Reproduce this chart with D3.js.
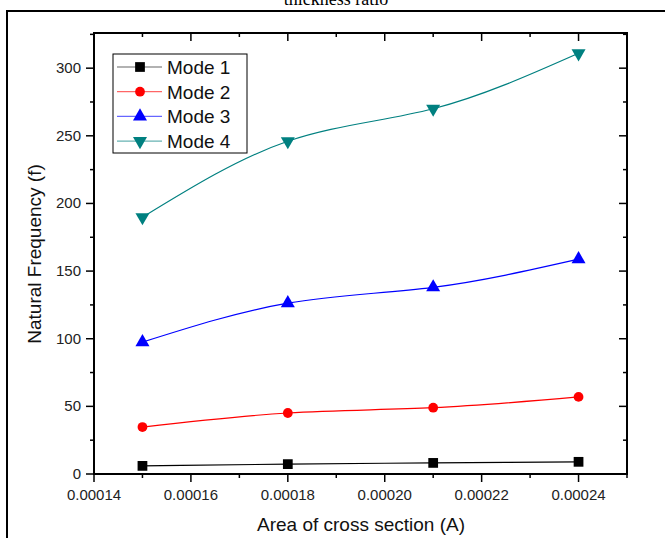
<!DOCTYPE html>
<html>
<head>
<meta charset="utf-8">
<script src="https://cdn.jsdelivr.net/npm/d3@7"></script>
<style>
  body { margin: 0; background: #fff; }
  text { font-family: "Liberation Sans", Arial, sans-serif; }
</style>
</head>
<body>
<svg id="chart" width="665" height="538"></svg>
<script>
// data
const areas = [0.00015, 0.00018, 0.00021, 0.00024];
const mode1 = [6, 7.3, 8.2, 9];
const mode2 = [34.7, 45.1, 49, 57];
const mode3 = [97.5, 126.3, 138, 158.8];
const mode4 = [189.8, 246, 270, 311];
const seriesNames = ["Mode 1", "Mode 2", "Mode 3", "Mode 4"];
const seriesColors = ["#000000", "#ff0000", "#0000ff", "#008080"];
const seriesShapes = ["square", "circle", "triangle", "triangleDown"];
const xTicks = [0.00014, 0.00016, 0.00018, 0.00020, 0.00022, 0.00024];
const yTicks = [0, 50, 100, 150, 200, 250, 300];

const series = [mode1, mode2, mode3, mode4];

const svg = d3.select("#chart");
const pLeft = 94, pRight = 627, pTop = 33, pBottom = 474;

const x = d3.scaleLinear().domain([0.00014, 0.00025]).range([pLeft, pRight]);
const y = d3.scaleLinear().domain([0, 326]).range([pBottom, pTop]);

// caption, cut off at the top as in the scan, and outer frame
svg.append("text")
  .attr("x", 336).attr("y", 5)
  .attr("text-anchor", "middle")
  .style("font-family", "'Liberation Serif', 'Times New Roman', serif")
  .style("font-size", "18px")
  .text("thickness ratio");

svg.append("rect")
  .attr("x", 7).attr("y", 11)
  .attr("width", 720).attr("height", 600)
  .attr("fill", "none").attr("stroke", "#000").attr("stroke-width", 2);

// minor ticks
const xMinor = d3.range(0.00015, 0.00025, 0.00002);
const yMinor = d3.range(25, 326, 50);

function tickLines(vals, fn) {
  svg.append("g").selectAll("line").data(vals).enter().append("line")
    .each(function (d) { fn(d3.select(this), d); })
    .attr("stroke", "#000").attr("stroke-width", 1.5);
}
// bottom: outward
tickLines(xTicks, (s, d) => s.attr("x1", x(d)).attr("x2", x(d)).attr("y1", pBottom).attr("y2", pBottom + 8));
tickLines(xMinor, (s, d) => s.attr("x1", x(d)).attr("x2", x(d)).attr("y1", pBottom).attr("y2", pBottom + 4));
// top: inward
tickLines(xTicks, (s, d) => s.attr("x1", x(d)).attr("x2", x(d)).attr("y1", pTop).attr("y2", pTop + 8));
tickLines(xMinor, (s, d) => s.attr("x1", x(d)).attr("x2", x(d)).attr("y1", pTop).attr("y2", pTop + 4));
// left: outward
tickLines(yTicks, (s, d) => s.attr("y1", y(d)).attr("y2", y(d)).attr("x1", pLeft).attr("x2", pLeft - 8));
tickLines(yMinor, (s, d) => s.attr("y1", y(d)).attr("y2", y(d)).attr("x1", pLeft).attr("x2", pLeft - 4));
// right: inward
tickLines(yTicks, (s, d) => s.attr("y1", y(d)).attr("y2", y(d)).attr("x1", pRight).attr("x2", pRight - 8));
tickLines(yMinor, (s, d) => s.attr("y1", y(d)).attr("y2", y(d)).attr("x1", pRight).attr("x2", pRight - 4));

// plot frame
svg.append("rect")
  .attr("x", pLeft).attr("y", pTop)
  .attr("width", pRight - pLeft).attr("height", pBottom - pTop)
  .attr("fill", "none").attr("stroke", "#000").attr("stroke-width", 2);

// tick labels
svg.append("g").selectAll("text").data(xTicks).enter().append("text")
  .attr("x", d => x(d)).attr("y", pBottom + 26)
  .attr("text-anchor", "middle")
  .style("font-size", "15px").attr("fill", "#222")
  .text(d => d.toFixed(5));

svg.append("g").selectAll("text").data(yTicks).enter().append("text")
  .attr("x", pLeft - 13).attr("y", d => y(d) + 5)
  .attr("text-anchor", "end")
  .style("font-size", "15px").attr("fill", "#222")
  .text(d => d);

// axis titles
svg.append("text")
  .attr("x", 361).attr("y", 531)
  .attr("text-anchor", "middle")
  .style("font-size", "19px").attr("fill", "#111")
  .text("Area of cross section (A)");

svg.append("text")
  .attr("transform", "translate(41,254) rotate(-90)")
  .attr("text-anchor", "middle")
  .style("font-size", "19px").attr("fill", "#111")
  .text("Natural Frequency (f)");

// markers
const symbolFor = {
  square: d3.symbol().type(d3.symbolSquare).size(95),
  circle: d3.symbol().type(d3.symbolCircle).size(75),
  triangle: d3.symbol().type(d3.symbolTriangle).size(85),
  triangleDown: d3.symbol().type(d3.symbolTriangle).size(85)
};
function marker(g, shape, cx, cy, color) {
  g.append("path")
    .attr("d", symbolFor[shape]())
    .attr("transform", "translate(" + cx + "," + cy + ")" + (shape == "triangleDown" ? " rotate(180)" : ""))
    .attr("fill", color);
}

const line = d3.line()
  .x((d, i) => x(areas[i]))
  .y(d => y(d))
  .curve(d3.curveNatural);

series.forEach((vals, k) => {
  const g = svg.append("g");
  g.append("path")
    .datum(vals)
    .attr("d", line)
    .attr("fill", "none")
    .attr("stroke", seriesColors[k])
    .attr("stroke-width", 1.2);
  vals.forEach((v, i) => marker(g, seriesShapes[k], x(areas[i]), y(v), seriesColors[k]));
});

// legend
const legend = svg.append("g");
legend.append("rect")
  .attr("x", 113).attr("y", 54)
  .attr("width", 134).attr("height", 99)
  .attr("fill", "#fff").attr("stroke", "#000").attr("stroke-width", 1);

seriesNames.forEach((name, k) => {
  const ly = 67 + k * 24.7;
  legend.append("line")
    .attr("x1", 117).attr("x2", 162)
    .attr("y1", ly).attr("y2", ly)
    .attr("stroke", seriesColors[k]).attr("stroke-width", 1.2)
    .attr("stroke-opacity", 0.6);
  marker(legend, seriesShapes[k], 140, ly, seriesColors[k]);
  legend.append("text")
    .attr("x", 167).attr("y", ly + 7)
    .style("font-size", "19px").attr("fill", "#111")
    .text(name);
});
</script>
</body>
</html>
